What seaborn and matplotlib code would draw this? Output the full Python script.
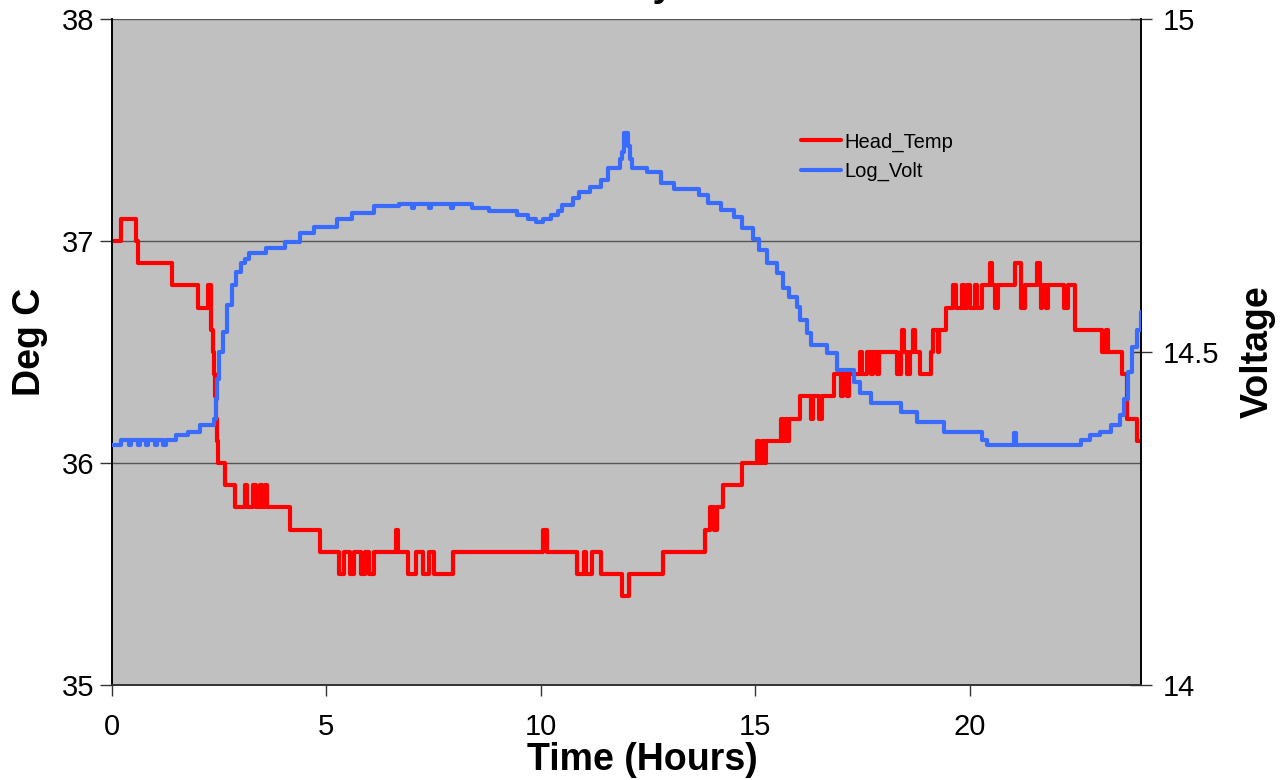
import numpy as np
import pandas as pd
import matplotlib
matplotlib.use("Agg")
import matplotlib.pyplot as plt
import seaborn as sns

# ---------------- data ----------------
temp_t = [0.0, 0.2, 0.55, 0.6, 1.4, 2.0, 2.25, 2.3, 2.32, 2.35, 2.37, 2.4, 2.42, 2.45,
          2.47, 2.64, 2.87, 3.1, 3.15, 3.3, 3.35, 3.45, 3.5, 3.57, 3.62,
          4.15, 4.85, 5.3, 5.4, 5.55, 5.65, 5.8, 5.9, 6.0, 6.1, 6.6, 6.62, 6.68,
          6.9, 7.1, 7.25, 7.4, 7.5, 7.95, 10.05, 10.15, 10.85, 11.0, 11.05, 11.2,
          11.4, 11.9, 12.05, 12.85, 13.83, 13.95, 14.05, 14.1, 14.25, 14.7,
          15.05, 15.1, 15.15, 15.2, 15.25, 15.6, 15.65, 15.7, 15.75, 15.8,
          16.05, 16.3, 16.35, 16.5, 16.55, 16.85, 17.0, 17.05, 17.15, 17.2,
          17.45, 17.5, 17.6, 17.7, 17.75, 17.85, 17.9, 18.3, 18.4, 18.43, 18.47,
          18.55, 18.62, 18.68, 18.72, 18.85, 19.1, 19.15, 19.27, 19.3, 19.45,
          19.62, 19.68, 19.83, 19.88, 19.95, 20.0, 20.12, 20.17, 20.3,
          20.47, 20.53, 20.6, 20.66, 21.05, 21.2, 21.3, 21.58, 21.64, 21.66, 21.7,
          21.78, 21.82, 22.2, 22.3, 22.46, 23.1, 23.18, 23.24, 23.55, 23.67, 23.9, 24.0]
temp_v = [37.0, 37.1, 37.0, 36.9, 36.8, 36.7, 36.8, 36.7, 36.6, 36.5, 36.4, 36.3, 36.2, 36.1,
          36.0, 35.9, 35.8, 35.9, 35.8, 35.9, 35.8, 35.9, 35.8, 35.9, 35.8,
          35.7, 35.6, 35.5, 35.6, 35.5, 35.6, 35.5, 35.6, 35.5, 35.6, 35.6, 35.7, 35.6,
          35.5, 35.6, 35.5, 35.6, 35.5, 35.6, 35.7, 35.6, 35.5, 35.6, 35.5, 35.6,
          35.5, 35.4, 35.5, 35.6, 35.7, 35.8, 35.7, 35.8, 35.9, 36.0,
          36.1, 36.0, 36.1, 36.0, 36.1, 36.2, 36.1, 36.2, 36.1, 36.2,
          36.3, 36.2, 36.3, 36.2, 36.3, 36.4, 36.3, 36.4, 36.3, 36.4,
          36.5, 36.4, 36.5, 36.4, 36.5, 36.4, 36.5, 36.4, 36.5, 36.6, 36.5,
          36.4, 36.5, 36.6, 36.5, 36.4, 36.5, 36.6, 36.5, 36.6, 36.7,
          36.8, 36.7, 36.8, 36.7, 36.8, 36.7, 36.8, 36.7, 36.8,
          36.9, 36.8, 36.7, 36.8, 36.9, 36.7, 36.8, 36.9, 36.8, 36.7, 36.8,
          36.7, 36.8, 36.7, 36.8, 36.6, 36.5, 36.6, 36.5, 36.4, 36.2, 36.1, 36.1]

volt_t = [0.0, 0.2, 0.4, 0.45, 0.6, 0.65, 0.8, 0.85, 1.0, 1.05, 1.2, 1.25, 1.5, 1.77,
          2.05, 2.38, 2.42, 2.45, 2.5, 2.58, 2.68, 2.8, 2.9, 3.0, 3.1, 3.2, 3.6,
          4.03, 4.38, 4.7, 5.25, 5.6, 6.1, 6.7, 7.0, 7.05, 7.4, 7.45, 7.9, 7.95,
          8.4, 8.8, 9.45, 9.7, 9.9, 10.05, 10.25, 10.4, 10.5, 10.75, 10.9, 11.15,
          11.4, 11.57, 11.85, 11.9, 11.95, 12.03, 12.08, 12.13, 12.48, 12.8, 13.1,
          13.7, 13.9, 14.2, 14.5, 14.7, 14.95, 15.1, 15.27, 15.5, 15.65, 15.8,
          15.97, 16.05, 16.2, 16.3, 16.67, 16.9, 17.3, 17.45, 17.7, 18.4, 18.77,
          19.4, 20.3, 20.4, 21.03, 21.08, 22.6, 22.8, 23.05, 23.3, 23.5, 23.6,
          23.7, 23.8, 23.9, 24.0]
volt_v = [14.360, 14.368, 14.360, 14.368, 14.360, 14.368, 14.360, 14.368, 14.360, 14.368,
          14.360, 14.368, 14.376, 14.380,
          14.390, 14.400, 14.430, 14.460, 14.500, 14.530, 14.570, 14.600, 14.620, 14.634,
          14.640, 14.649, 14.656,
          14.665, 14.679, 14.688, 14.700, 14.708, 14.719, 14.722, 14.716, 14.722,
          14.716, 14.722, 14.716, 14.722,
          14.716, 14.712, 14.706, 14.700, 14.695, 14.700, 14.706, 14.712, 14.720,
          14.731, 14.740, 14.748,
          14.758, 14.776, 14.790, 14.800, 14.829, 14.810, 14.790, 14.776, 14.770,
          14.754, 14.745,
          14.735, 14.724, 14.713, 14.703, 14.686, 14.670, 14.653, 14.634, 14.619,
          14.596, 14.583,
          14.568, 14.548, 14.529, 14.510, 14.498, 14.473, 14.455, 14.438, 14.423,
          14.410, 14.395,
          14.380, 14.368, 14.360, 14.378, 14.360, 14.368, 14.375, 14.380, 14.390,
          14.405, 14.430,
          14.470, 14.508, 14.533, 14.560]

series_names = ["Head_Temp", "Log_Volt"]
x_ticks = [0, 5, 10, 15, 20]
left_ticks = [35, 36, 37, 38]
right_ticks = [14, 14.5, 15]
left_labels = ["35", "36", "37", "38"]
right_labels = ["14", "14.5", "15"]

# ---------------- styling ----------------
sns.set_style("white")
plt.rcParams["font.family"] = ["Liberation Sans", "DejaVu Sans"]
plt.rcParams["text.color"] = "black"
plt.rcParams["axes.labelcolor"] = "black"
plt.rcParams["xtick.color"] = "black"
plt.rcParams["ytick.color"] = "black"

RED = "#FF0000"
BLUE = "#3A6BFF"

fig = plt.figure(figsize=(12.84, 7.80), dpi=100)
ax = fig.add_axes([112 / 1284, 1 - 685 / 780, (1141 - 112) / 1284, (685 - 19) / 780])
ax.set_facecolor("#C0C0C0")
ax2 = ax.twinx()

df_t = pd.DataFrame({"t": temp_t, "v": temp_v})
df_v = pd.DataFrame({"t": volt_t, "v": volt_v})

sns.lineplot(data=df_t, x="t", y="v", ax=ax, color=RED, lw=3.0,
             drawstyle="steps-post", estimator=None, sort=False, zorder=3)
sns.lineplot(data=df_v, x="t", y="v", ax=ax2, color=BLUE, lw=3.0,
             drawstyle="steps-post", estimator=None, sort=False, zorder=3)

ax.set_xlim(0, 24)
ax.set_ylim(35, 38)
ax2.set_ylim(14, 15)

ax.set_xticks(x_ticks)
ax.set_xticklabels([str(v) for v in x_ticks])
ax.set_yticks(left_ticks)
ax.set_yticklabels(left_labels)
ax2.set_yticks(right_ticks)
ax2.set_yticklabels(right_labels)

for a in (ax, ax2):
    a.grid(False)
ax.yaxis.grid(True, color="#555555", lw=1.0)
ax.set_axisbelow(True)

ax.tick_params(axis="x", direction="out", length=8, width=1, labelsize=21,
               color="#333333", labelcolor="black", bottom=True, pad=12)
ax.tick_params(axis="y", direction="out", length=9, width=1, labelsize=21,
               color="#333333", labelcolor="black", left=True, pad=4)
ax2.tick_params(axis="y", direction="inout", length=16, width=1, labelsize=21,
                color="#333333", labelcolor="black", right=True, pad=8)

for a in (ax, ax2):
    a.spines["top"].set_visible(False)
    a.spines["left"].set_color("black")
    a.spines["right"].set_color("black")
    a.spines["bottom"].set_color("#333333")
    for s in a.spines.values():
        s.set_linewidth(1.2)

ax.set_xlabel("Time (Hours)", fontsize=27, fontweight="bold")
ax.set_ylabel("Deg C", fontsize=27, fontweight="bold")
ax2.set_ylabel("Voltage", fontsize=27, fontweight="bold")
ax.xaxis.set_label_coords(0.515, -0.085)
ax.yaxis.set_label_coords(-0.062, 0.515)
ax2.yaxis.set_label_coords(1.096, 0.5)

# title (cut off at the top edge, as in the reference)
fig.text(0.447, 1 + 4 / 780, "Sensor Stability Test", ha="center", va="baseline",
         fontsize=27, fontweight="bold")

handles = [ax.get_lines()[0], ax2.get_lines()[0]]
ax2.legend(handles, series_names, loc="upper left", bbox_to_anchor=(0.652, 0.857),
           frameon=False, fontsize=14.5, handlelength=2.0, handletextpad=0.15,
           labelspacing=0.5)

fig.savefig("out.png", dpi=100)
